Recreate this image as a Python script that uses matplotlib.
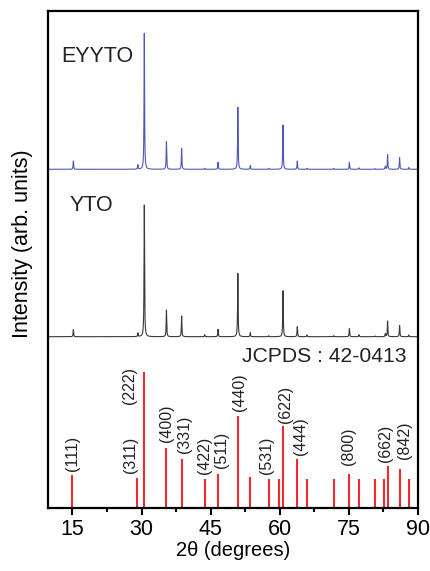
import numpy as np
import matplotlib
matplotlib.use("Agg")
import matplotlib.pyplot as plt

plt.rcParams['font.family'] = ['Liberation Sans', 'DejaVu Sans']

# ---- data ----
# EYYTO pattern: peak positions (2theta) and heights (arb.)
eyyto_pos = [15.2, 29.2, 30.6, 35.4, 38.7, 43.7, 46.6, 50.9, 53.6, 57.6, 60.7, 63.8, 65.9, 71.7, 75.1, 77.2, 80.7, 82.9, 83.4, 86.0, 88.0]
eyyto_h   = [8.3, 4.3, 136.0, 27.7, 20.7, 1.0, 7.0, 62.0, 3.7, 1.0, 44.3, 8.3, 1.0, 1.0, 7.0, 1.5, 0.7, 3.0, 14.7, 11.7, 1.7]
# YTO pattern
yto_pos = [15.2, 29.2, 30.6, 35.4, 38.7, 43.7, 46.6, 50.9, 53.6, 57.6, 60.7, 63.8, 65.9, 71.7, 75.1, 77.2, 80.7, 82.9, 83.4, 86.0, 88.0]
yto_h   = [7.0, 3.7, 131.7, 26.7, 20.7, 2.0, 7.3, 63.3, 4.0, 1.0, 46.0, 10.0, 1.7, 1.0, 8.0, 2.0, 0.7, 3.0, 15.7, 11.3, 1.7]
# JCPDS 42-0413 reference lines: position, relative intensity (%)
ref_pos = [15.0, 29.1, 30.5, 35.4, 38.7, 43.7, 46.6, 50.9, 53.6, 57.6, 59.9, 60.7, 63.8, 65.9, 71.7, 75.1, 77.2, 80.7, 82.7, 83.4, 86.0, 88.0]
ref_int = [24.5, 22.0, 100.0, 44.0, 36.0, 21.0, 25.0, 68.0, 23.0, 21.0, 21.0, 60.0, 36.0, 21.5, 21.0, 25.0, 21.5, 21.0, 21.5, 31.0, 29.0, 21.5]
ref_hkl = ['(111)', '(311)', '', '(400)', '(331)', '(422)', '(511)', '(440)', '', '(531)', '', '(622)', '(444)', '', '', '(800)', '', '', '', '(662)', '(842)', '']
hkl_222 = '(222)'
xticks = [15, 30, 45, 60, 75, 90]

# ---- layout parameters (not data) ----
ref_scale = 1.36          # pixel units per % intensity
yto_base = 171.3
eyyto_base = 338.7
fwhm = 0.13
label_dx = {'(111)': 0.1, '(311)': -1.4, '(400)': 0.0, '(331)': 0.56, '(422)': -0.1, '(511)': 0.8,
            '(440)': 0.45, '(531)': -0.4, '(622)': 0.45, '(444)': 0.6, '(800)': -0.2, '(662)': -0.4, '(842)': 1.1}
label_gap = {'(111)': 4, '(311)': 5, '(400)': 6, '(331)': 6, '(422)': 5, '(511)': 6,
             '(440)': 5, '(531)': 5, '(622)': 3, '(444)': 4, '(800)': 9, '(662)': 4, '(842)': 10}

fig = plt.figure(figsize=(4.30, 5.71), dpi=100)
ax = fig.add_axes([48/430, 1-508/571, 370/430, 497/571])

x = np.linspace(9.7, 90, 8031)
x = np.union1d(x, np.array(eyyto_pos + yto_pos))
g = fwhm / 2.0

def profile(pos, hts):
    y = np.zeros_like(x)
    for p, h in zip(pos, hts):
        y += h / (1 + ((x - p) / g) ** 2)
    return y

ax.plot(x, eyyto_base + profile(eyyto_pos, eyyto_h), color='#4f57b8', lw=0.8)
ax.plot(x, yto_base + profile(yto_pos, yto_h), color='#3a3a3a', lw=0.8)

ref_h = [v * ref_scale for v in ref_int]
ax.vlines(ref_pos, 0, ref_h, color='#ee2a30', lw=1.5)

for p, h, lab in zip(ref_pos, ref_h, ref_hkl):
    if lab:
        ax.text(p + label_dx[lab], h + label_gap[lab], lab, rotation=90,
                ha='center', va='bottom', fontsize=11.5, color='#222222')
# (222) label sits beside its line
i222 = ref_int.index(max(ref_int))
ax.text(ref_pos[i222] - 3.15, 104, hkl_222, rotation=90, ha='center', va='bottom',
        fontsize=11.5, color='#222222')

ax.text(12.6, 446.3, 'EYYTO', fontsize=15.5, va='baseline', ha='left', color='#222222')
ax.text(14.4, 297.3, 'YTO', fontsize=15.5, va='baseline', ha='left', color='#222222')
ax.text(51.7, 145.7, 'JCPDS : 42-0413', fontsize=15.2, va='baseline', ha='left', color='#222222')

ax.set_xlim(9.7, 90)
ax.set_ylim(0, 497)
ax.set_xticks(xticks)
ax.set_xticks([22.5, 37.5, 52.5, 67.5, 82.5], minor=True)
ax.set_yticks([])
ax.tick_params(axis='x', which='major', direction='out', length=5, width=1.5, labelsize=15.5, pad=3)
ax.tick_params(axis='x', which='minor', direction='out', length=3, width=1.5)
for s in ax.spines.values():
    s.set_linewidth(1.6)

ax.set_xlabel('2θ (degrees)', fontsize=14.5, labelpad=1)
fig.text(22.5/430, 1-244/571, 'Intensity (arb. units)', rotation=90, fontsize=15.5,
         ha='center', va='center')

fig.savefig('out.png', dpi=100)
